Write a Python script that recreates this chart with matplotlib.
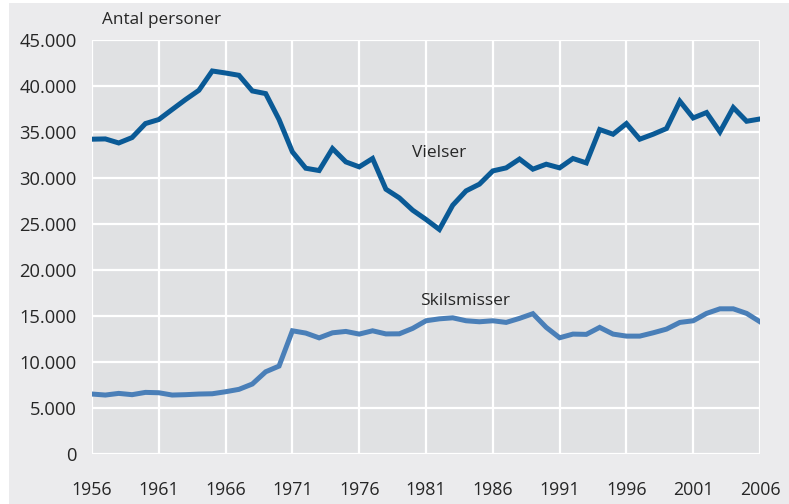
import matplotlib.pyplot as plt
import matplotlib.patches as patches
import numpy as np

years = list(range(1956, 2007))

vielser = [34210, 34240, 33800, 34390, 35910, 36350, 37440, 38520, 39530, 41630,
           41410, 41160, 39460, 39170, 36350, 32830, 31050, 30800, 33190, 31740,
           31200, 32110, 28770, 27830, 26490, 25480, 24390, 27030, 28590, 29320,
           30760, 31090, 32050, 30950, 31490, 31090, 32110, 31630, 35260, 34750,
           35910, 34210, 34750, 35370, 38340, 36520, 37110, 35000, 37650, 36160,
           36410]

skilsmisser = [6490, 6380, 6560, 6420, 6670, 6630, 6380, 6420, 6490, 6520,
               6740, 7000, 7580, 8910, 9530, 13370, 13120, 12600, 13150, 13300,
               13010, 13370, 13030, 13040, 13630, 14460, 14670, 14780, 14460, 14350,
               14460, 14280, 14720, 15230, 13740, 12610, 13010, 12980, 13740, 13010,
               12790, 12790, 13150, 13550, 14280, 14460, 15260, 15760, 15760, 15260,
               14350]

xticks = list(range(1956, 2007, 5))
yticks = list(range(0, 45001, 5000))

text_col = '#262626'
plt.rcParams['font.family'] = ['Open Sans', 'DejaVu Sans']

fig = plt.figure(figsize=(7.89, 5.04), dpi=100, facecolor='white')
# grey panel behind the chart
fig.patches.append(patches.Rectangle((9 / 789, 0), 1, 1 - 3 / 504,
                                     transform=fig.transFigure,
                                     facecolor='#ebebed', edgecolor='none', zorder=-10))

ax = fig.add_axes([92 / 789, 1 - 453.7 / 504, (760 - 92) / 789, (453.7 - 40) / 504])
ax.set_facecolor('#e0e1e3')
ax.plot(years, vielser, color='#0a5a96', lw=3.6, solid_joinstyle='miter', zorder=3)
ax.plot(years, skilsmisser, color='#4a7fb8', lw=3.6, solid_joinstyle='miter', zorder=3)

ax.set_xlim(1956, 2006)
ax.set_ylim(0, 45000)
ax.set_xticks(xticks)
ax.set_yticks(yticks)
ax.set_yticklabels([f'{v:,}'.replace(',', '.') for v in yticks])
ax.grid(True, color='white', lw=1.6)
ax.set_axisbelow(True)
for s in ax.spines.values():
    s.set_visible(False)
ax.tick_params(length=0, colors=text_col)
ax.tick_params(axis='y', labelsize=13.2, pad=11)
ax.tick_params(axis='x', labelsize=12.8, pad=20)

ax.text(1982.0, 32690, 'Vielser', fontsize=12.5, color=text_col, ha='center', va='center')
ax.text(1983.9, 16600, 'Skilsmisser', fontsize=12.5, color=text_col, ha='center', va='center')
fig.text(102 / 789, 1 - 20 / 504, 'Antal personer', fontsize=12.3, color=text_col,
         ha='left', va='center')

fig.savefig('out.png', dpi=100, facecolor=fig.get_facecolor())
